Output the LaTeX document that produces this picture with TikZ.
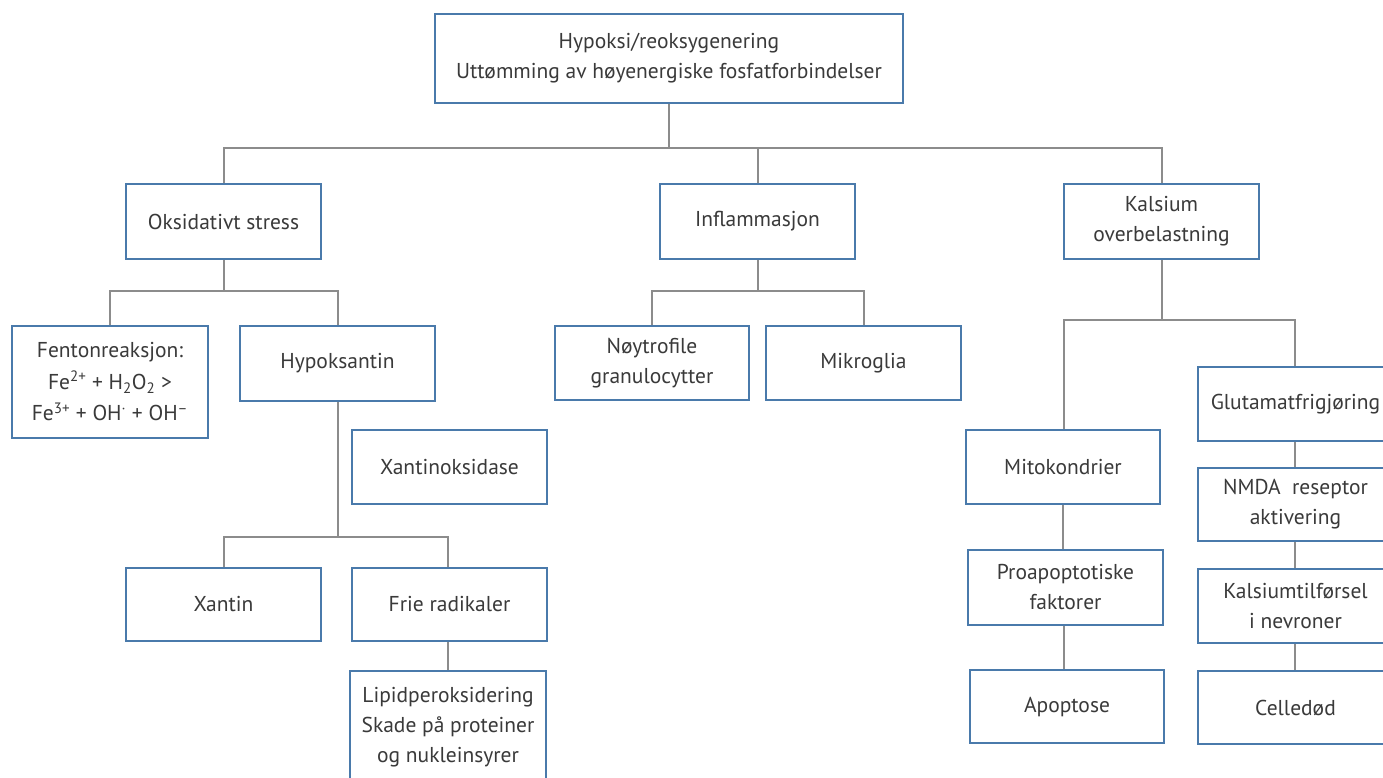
\documentclass[tikz,border=0pt]{standalone}
\usepackage{fontspec}
\setmainfont{PT Sans}
\definecolor{boxc}{HTML}{4A7AAB}
\definecolor{linec}{HTML}{8C8C8C}
\definecolor{textc}{HTML}{3A3A3A}
\begin{document}
\begin{tikzpicture}[x=1pt,y=-1pt,
  box/.style={draw=boxc,line width=2pt,fill=white,rectangle,align=center,text=textc,
    minimum width=195pt,minimum height=75pt,inner sep=0pt,
    font=\fontsize{21.5}{30}\selectfont},
  conn/.style={draw=linec,line width=2pt}]
\useasboundingbox (0,0) rectangle (1383,778);
\clip (0,0) rectangle (1383,778);
% nodes
\node[box,minimum width=468pt,minimum height=89pt] (top) at (669,58.5) {Hypoksi/reoksygenering\\Uttømming av høyenergiske fosfatforbindelser};
\node[box] (oks) at (223.5,221.5) {Oksidativt stress};
\node[box] (inf) at (757.5,221.5) {Inflammasjon};
\node[box] (kal) at (1161.5,221.5) {Kalsium\\overbelastning};
\node[box,minimum width=196pt,minimum height=112pt,font=\fontsize{21.5}{31.5}\selectfont] (fen) at (110,382) {Fentonreaksjon:\\Fe\textsuperscript{2+} + H\textsubscript{2}O\textsubscript{2} >\\Fe\textsuperscript{3+} + OH\textsuperscript{·} + OH\textsuperscript{–}};
\node[box] (hyp) at (337.5,363.5) {Hypoksantin};
\node[box,minimum width=194pt,minimum height=74pt] (noy) at (652,363) {Nøytrofile\\granulocytter};
\node[box,minimum height=74pt] (mik) at (863.5,363) {Mikroglia};
\node[box,minimum height=74pt] (xo) at (449.5,467) {Xantinoksidase};
\node[box,minimum height=73pt] (xan) at (223.5,604.5) {Xantin};
\node[box,minimum height=73pt] (fri) at (449.5,604.5) {Frie radikaler};
\node[box,minimum width=196pt,minimum height=112pt,anchor=north] (lip) at (448,670) {Lipidperoksidering\\Skade på proteiner\\og nukleinsyrer};
\node[box,minimum width=194pt,minimum height=74pt] (mit) at (1063,467) {Mitokondrier};
\node[box] (pro) at (1065.5,587.5) {Proapoptotiske\\faktorer};
\node[box,minimum width=194pt,minimum height=73pt] (apo) at (1067,706.5) {Apoptose};
\node[box,minimum height=74pt,anchor=north west] (glu) at (1197,366) {Glutamatfrigjøring};
\node[box,minimum height=73pt,anchor=north west] (nmda) at (1197,467) {NMDA~ reseptor\\aktivering};
\node[box,minimum height=74pt,anchor=north west] (kti) at (1197,568) {Kalsiumtilførsel\\i nevroner};
\node[box,minimum height=73pt,anchor=north west] (cel) at (1197,670) {Celledød};
% connectors
\coordinate (j1) at (669,148);
\draw[conn] (top.south) -- (j1);
\draw[conn] (oks.north) |- (j1) -| (kal.north);
\draw[conn] (j1) -| (inf.north);
\coordinate (j2) at (223.5,291);
\draw[conn] (oks.south) -- (j2);
\draw[conn] (fen.north) |- (j2) -| (hyp.north);
\coordinate (j3) at (757.5,291);
\draw[conn] (inf.south) -- (j3);
\draw[conn] (noy.north) |- (j3) -| (mik.north);
\coordinate (j4) at (337.5,537);
\draw[conn] (hyp.south) -- (j4);
\draw[conn] (xan.north) |- (j4) -| ([xshift=-1.5pt]fri.north);
\draw[conn] ([xshift=-1.5pt]fri.south) -- (lip.north);
\coordinate (j5) at (1161.5,320);
\draw[conn] (kal.south) -- (j5);
\draw[conn] ([xshift=1pt]mit.north) |- (j5) -| ([xshift=-0.5pt]glu.north);
\draw[conn] (mit.south) -- (mit.south |- pro.north);
\draw[conn] ([xshift=-1.5pt]pro.south) -- ([xshift=-1.5pt]pro.south |- apo.north);
\draw[conn] ([xshift=-0.5pt]glu.south) -- ([xshift=-0.5pt]nmda.north);
\draw[conn] ([xshift=-0.5pt]nmda.south) -- ([xshift=-0.5pt]kti.north);
\draw[conn] ([xshift=-0.5pt]kti.south) -- ([xshift=-0.5pt]cel.north);
\end{tikzpicture}
\end{document}
